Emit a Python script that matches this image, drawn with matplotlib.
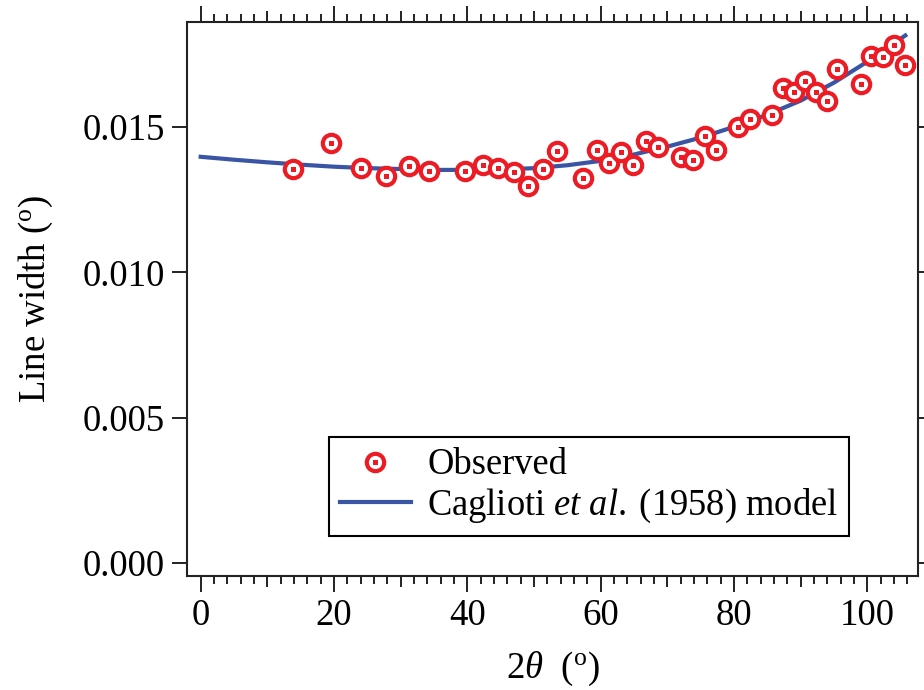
import numpy as np
import matplotlib
matplotlib.use("Agg")
import matplotlib.pyplot as plt
from matplotlib.lines import Line2D
from matplotlib.ticker import FixedLocator, FuncFormatter

plt.rcParams['font.family'] = ['Liberation Serif', 'DejaVu Serif']
plt.rcParams['mathtext.fontset'] = 'custom'
plt.rcParams['mathtext.rm'] = 'Liberation Serif'
plt.rcParams['mathtext.it'] = 'Liberation Serif:italic'

# observed line widths (2theta in degrees, width in degrees)
two_theta = [13.8, 19.6, 24.0, 27.8, 31.2, 34.2, 39.7, 42.3, 44.6, 47.0,
             49.1, 51.4, 53.4, 57.4, 59.4, 61.3, 63.1, 64.9, 66.8, 68.6,
             72.1, 73.9, 75.6, 77.3, 80.6, 82.4, 85.7, 87.3, 89.0, 90.6,
             92.3, 93.9, 95.5, 99.0, 100.6, 102.3, 104.0, 105.7]
width_obs = [0.01354, 0.01445, 0.01360, 0.01331, 0.01365, 0.01348, 0.01348,
             0.01368, 0.01357, 0.01344, 0.01297, 0.01356, 0.01416, 0.01323,
             0.01420, 0.01376, 0.01415, 0.01369, 0.01451, 0.01430, 0.01396,
             0.01386, 0.01469, 0.01420, 0.01498, 0.01526, 0.01540, 0.01632,
             0.01619, 0.01658, 0.01620, 0.01588, 0.01700, 0.01646, 0.01743,
             0.01741, 0.01781, 0.01711]

# Caglioti model curve
model_x = [0, 5, 10, 15, 20, 25, 30, 35, 40, 45, 50, 55, 60, 65, 70, 75,
           80, 85, 90, 95, 100, 105.7]
model_y = [0.01397, 0.01387, 0.01378, 0.01370, 0.01363, 0.01358, 0.01355,
           0.01352, 0.01352, 0.01353, 0.01358, 0.01368, 0.01383, 0.01405,
           0.01432, 0.01463, 0.01500, 0.01542, 0.01590, 0.01652, 0.01724,
           0.01814]

red = '#ED1C24'
blue = '#3A55A4'
dark = '#222222'

fig = plt.figure(figsize=(9.24, 6.9), dpi=100)
ax = fig.add_axes([0.2024, 0.1652, 0.7911, 0.8036])

ax.plot(model_x, model_y, color=blue, lw=3, zorder=3)
ax.plot(two_theta, width_obs, ls='none', marker='o', ms=12.5, mew=3.0,
        mec=red, mfc='white', zorder=4)
ax.plot(two_theta, width_obs, ls='none', marker='s', ms=3.6, mew=0,
        mfc=red, zorder=5)

ax.set_xlim(-2.05, 107.6)
ax.set_ylim(-0.00044, 0.01862)

for sp in ax.spines.values():
    sp.set_linewidth(1.5)
    sp.set_color(dark)

# x ticks every 2, labels every 20, longer tick at each 10
xt = list(range(0, 107, 2))
ax.xaxis.set_major_locator(FixedLocator(xt))
ax.xaxis.set_major_formatter(FuncFormatter(lambda v, p: '%d' % v if round(v) % 20 == 0 else ''))
ax.tick_params(axis='x', direction='out', top=True, labeltop=False, width=1.4,
               color=dark, labelsize=26.5, pad=13)
for t, v in zip(ax.xaxis.get_major_ticks(), xt):
    if v % 20 == 0:
        L = 11.2
    elif v % 10 == 0:
        L = 8.1
    else:
        L = 5.8
    t.tick1line.set_markersize(L)
    t.tick2line.set_markersize(L)

ax.set_yticks([0, 0.005, 0.010, 0.015])
ax.set_yticklabels(['0.000', '0.005', '0.010', '0.015'])
ax.tick_params(axis='y', direction='out', right=True, length=11, width=1.4,
               color=dark, labelsize=26.5, pad=5)

ax.set_ylabel(r'Line width ($^{\mathrm{o}}$)', fontsize=26.5, labelpad=20)
ax.set_xlabel(r'2$\theta$  ($^{\mathrm{o}}$)', fontsize=26.5, labelpad=12)

obs_handle = (Line2D([], [], ls='none', marker='o', ms=12.5, mew=3.0, mec=red, mfc='white'),
              Line2D([], [], ls='none', marker='s', ms=3.6, mew=0, mfc=red))
mod_handle = Line2D([], [], color=blue, lw=3)
leg = ax.legend([obs_handle, mod_handle],
                ['Observed', r'Caglioti $\mathit{et\ al.}\;$(1958) model'],
                loc='lower left', bbox_to_anchor=(0.194, 0.072), borderaxespad=0,
                fontsize=26.3, frameon=True, fancybox=False, framealpha=1,
                edgecolor='black', handlelength=1.95, handletextpad=0.45,
                labelspacing=0.12, borderpad=0.3, numpoints=1)
leg.get_frame().set_linewidth(1.5)

fig.savefig('out.png', dpi=100)
